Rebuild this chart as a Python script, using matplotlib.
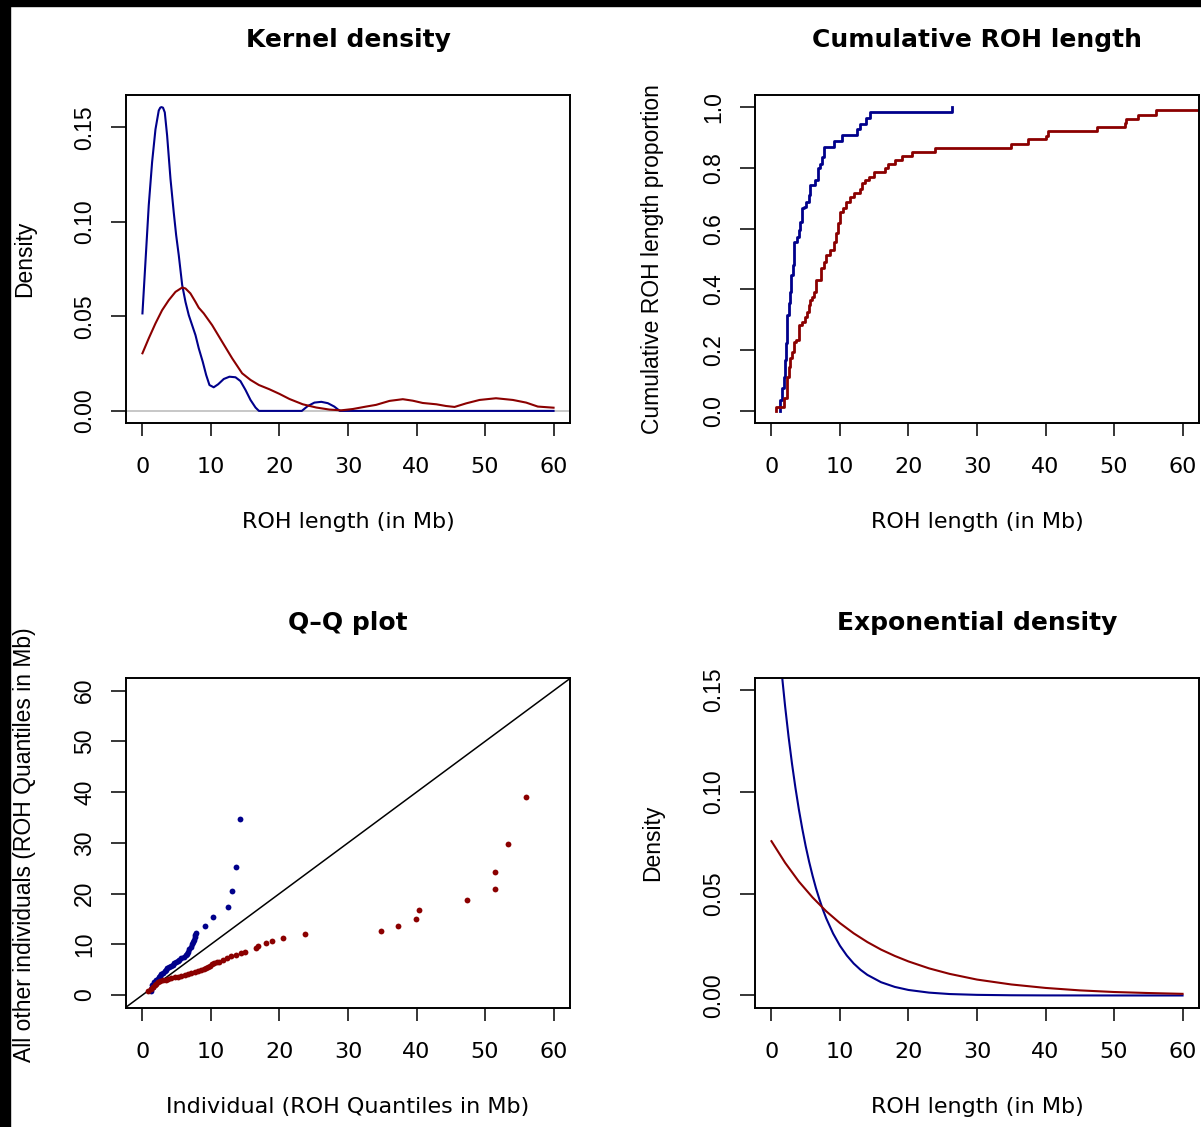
import matplotlib.pyplot as plt
from matplotlib.patches import Rectangle

# ---- values ----
# kernel density curves (ROH length in Mb -> density)
kde_blue_x = [0, 0.44, 0.92, 1.41, 1.9, 2.38, 2.6, 2.77, 3.0, 3.26, 3.6, 4.09, 4.57, 4.92,
              5.3, 5.8, 6.28, 6.76, 7.25, 7.74, 8.22, 8.8, 9.3, 9.78, 10.4, 11.05, 11.87,
              12.7, 13.58, 14.3, 15.04, 15.77, 16.5, 17.0, 23.26, 24.1, 25.1, 26.1, 27.05,
              28.0, 28.8, 60]
kde_blue_y = [0.0516, 0.0789, 0.1088, 0.1317, 0.149, 0.159, 0.1605, 0.1608, 0.1605, 0.158,
              0.1458, 0.1229, 0.105, 0.093, 0.0824, 0.0666, 0.0577, 0.0507, 0.0454, 0.0401,
              0.0331, 0.026, 0.019, 0.0137, 0.0125, 0.0141, 0.0169, 0.0181, 0.0178, 0.0158,
              0.0111, 0.0058, 0.0018, 0.0, 0.0, 0.0025, 0.0044, 0.0048, 0.0041, 0.0023, 0.0, 0.0]
kde_red_x = [0, 0.92, 1.9, 2.87, 3.84, 4.82, 5.8, 6.28, 7.0, 7.74, 8.22, 8.95, 10.17, 11.63,
             13.1, 14.55, 15.77, 17.0, 18.5, 20.0, 21.46, 23.4, 25.36, 27.3, 29.0, 30.7,
             32.65, 34.1, 36.06, 38.0, 39.46, 40.9, 42.9, 44.3, 45.55, 47.25, 49.2, 51.6,
             54.06, 56.0, 57.7, 60]
kde_red_y = [0.0305, 0.0384, 0.0463, 0.0533, 0.0586, 0.063, 0.0653, 0.0648, 0.0622, 0.0577,
             0.0546, 0.0516, 0.0454, 0.0366, 0.0278, 0.0199, 0.0164, 0.0137, 0.0115, 0.009,
             0.0063, 0.0035, 0.0018, 0.0007, 0.0003, 0.001, 0.0023, 0.0032, 0.0053, 0.0062,
             0.0054, 0.0042, 0.0035, 0.0026, 0.0021, 0.004, 0.0058, 0.0067, 0.0058, 0.0044,
             0.0023, 0.0017]

# cumulative ROH length proportion (step positions and levels after each step)
cum_blue_x = [1.31, 1.31, 1.56, 1.80, 1.95, 2.14, 2.29, 2.53, 2.77, 2.92, 3.11, 3.36, 3.75,
              4.09, 4.23, 4.43, 4.72, 5.06, 5.55, 5.69, 6.42, 6.76, 7.06, 7.40, 7.64, 9.10,
              10.32, 12.50, 12.99, 13.87, 14.45, 26.28]
cum_blue_y = [0.0, 0.036, 0.075, 0.113, 0.168, 0.223, 0.316, 0.354, 0.392, 0.447, 0.480,
              0.557, 0.573, 0.595, 0.623, 0.667, 0.672, 0.689, 0.711, 0.743, 0.760, 0.798,
              0.814, 0.837, 0.869, 0.889, 0.908, 0.928, 0.946, 0.965, 0.985, 1.0]
cum_red_x = [0.68, 0.68, 1.90, 2.29, 2.53, 2.68, 3.02, 3.26, 3.60, 4.09, 4.48, 4.87, 5.21,
             5.45, 5.69, 5.94, 6.18, 6.52, 7.30, 7.64, 8.03, 8.61, 9.20, 9.49, 9.73, 10.07,
             10.41, 10.95, 11.53, 12.02, 12.99, 13.24, 13.62, 14.31, 14.94, 16.64, 16.98,
             18.10, 19.08, 20.53, 23.80, 34.90, 37.47, 40.00, 40.39, 47.45, 51.58, 51.78,
             53.48, 56.16, 64.0]
cum_red_y = [0.0, 0.014, 0.042, 0.113, 0.146, 0.173, 0.195, 0.228, 0.234, 0.283, 0.294,
             0.310, 0.327, 0.349, 0.365, 0.376, 0.392, 0.431, 0.469, 0.491, 0.513, 0.530,
             0.557, 0.584, 0.617, 0.656, 0.667, 0.689, 0.705, 0.716, 0.732, 0.749, 0.760,
             0.771, 0.785, 0.800, 0.814, 0.826, 0.839, 0.853, 0.866, 0.880, 0.895, 0.906,
             0.921, 0.934, 0.948, 0.961, 0.974, 0.989, 1.0]

# Q-Q plot quantiles (individual vs all others)
qq_blue_x = [1.2, 1.31, 1.45, 1.55, 1.7, 1.8, 1.95, 2.04, 2.2, 2.43, 2.6, 2.77, 3.0, 3.25,
             3.4, 3.6, 3.9, 4.22, 4.4, 4.6, 4.9, 5.2, 5.4, 5.68, 6.0, 6.3, 6.5, 6.65, 6.8,
             7.03, 7.2, 7.38, 7.5, 7.6, 7.7, 7.77, 9.13, 10.3, 12.42, 13.0, 13.7, 14.3]
qq_blue_y = [1.2, 0.85, 1.9, 1.6, 2.6, 2.3, 2.8, 3.0, 3.2, 3.5, 3.8, 4.1, 4.4, 4.8, 5.0, 5.3,
             5.5, 5.8, 6.0, 6.25, 6.5, 6.8, 7.0, 7.2, 7.5, 7.8, 8.0, 8.5, 9.0, 9.5, 10.0,
             10.5, 10.9, 11.4, 11.8, 12.2, 13.6, 15.3, 17.4, 20.5, 25.3, 34.7]
qq_red_x = [0.83, 1.2, 1.55, 1.8, 2.0, 2.28, 2.6, 3.0, 3.4, 3.74, 4.2, 4.7, 5.2, 5.68, 6.2,
            6.65, 7.1, 7.6, 8.1, 8.6, 9.0, 9.3, 9.6, 9.8, 10.2, 10.5, 10.9, 11.2, 11.75, 12.3,
            12.96, 13.7, 14.4, 14.9, 16.6, 16.9, 17.96, 18.93, 20.5, 23.7, 34.8, 37.3, 39.9,
            40.3, 47.3, 51.4, 51.5, 53.3, 56.0]
qq_red_y = [0.8, 1.1, 1.5, 1.9, 2.2, 2.6, 2.8, 3.0, 3.05, 3.15, 3.3, 3.5, 3.6, 3.75, 3.9,
            4.1, 4.35, 4.6, 4.75, 4.9, 5.1, 5.3, 5.6, 5.8, 6.05, 6.25, 6.45, 6.6, 6.9, 7.2,
            7.6, 7.9, 8.2, 8.5, 9.2, 9.6, 10.3, 10.7, 11.25, 12.0, 12.6, 13.7, 15.0, 16.8,
            18.7, 20.9, 24.3, 29.7, 39.0]

# fitted exponential densities
exp_blue_x = [0, 0.5, 1, 1.5, 2, 2.5, 3, 3.5, 4, 4.5, 5, 5.5, 6, 6.5, 7, 7.5, 8, 9, 10, 11,
              12, 13, 14, 16, 18, 20, 23, 26, 30, 35, 40, 50, 60]
exp_blue_y = [0.2200, 0.1971, 0.1766, 0.1582, 0.1417, 0.1269, 0.1137, 0.1019, 0.0913,
              0.0818, 0.0732, 0.0656, 0.0588, 0.0526, 0.0472, 0.0422, 0.0378, 0.0304,
              0.0244, 0.0196, 0.0157, 0.0126, 0.0101, 0.0065, 0.0042, 0.0027, 0.0014,
              0.0007, 0.0003, 0.0001, 0.00003, 0.0, 0.0]
exp_red_x = [0, 2, 4, 6, 8, 10, 12, 14, 16, 18, 20, 23, 26, 30, 35, 40, 45, 50, 55, 60]
exp_red_y = [0.0757, 0.0651, 0.0559, 0.0481, 0.0413, 0.0355, 0.0305, 0.0262, 0.0225, 0.0194,
             0.0167, 0.0133, 0.0106, 0.0078, 0.0054, 0.0037, 0.0025, 0.0017, 0.0012, 0.0008]

x_ticks = [0, 10, 20, 30, 40, 50, 60]
dens_ticks = [0.0, 0.05, 0.10, 0.15]
dens_labels = ["0.00", "0.05", "0.10", "0.15"]
prop_ticks = [0.0, 0.2, 0.4, 0.6, 0.8, 1.0]
prop_labels = ["0.0", "0.2", "0.4", "0.6", "0.8", "1.0"]
qq_ticks = [0, 10, 20, 30, 40, 50, 60]
qq_labels = ["0", "10", "20", "30", "40", "50", "60"]

BLUE = "#00008B"
RED = "#8B0000"
HFONT = "DejaVu Sans"      # horizontal text (picture is stretched sideways)
VFONT = "Liberation Sans"  # rotated text

W, H = 1201, 1127
fig = plt.figure(figsize=(W / 100, H / 100), dpi=100)


def px_axes(x0, y0, x1, y1):
    return fig.add_axes([x0 / W, 1 - y1 / H, (x1 - x0) / W, (y1 - y0) / H])


def ftext(x, y, s, **kw):
    fig.text(x / W, 1 - y / H, s, **kw)


def style(ax, ylim, yticks, ylabels):
    ax.set_xlim(-2.4, 62.4)
    ax.set_ylim(*ylim)
    ax.set_xticks(x_ticks)
    ax.set_xticklabels([str(t) for t in x_ticks], fontfamily=HFONT)
    ax.set_yticks(yticks)
    ax.set_yticklabels(ylabels, fontfamily=VFONT, rotation=90, va="center")
    ax.tick_params(axis="x", length=9.4, width=1.1, pad=15, labelsize=16)
    ax.tick_params(axis="y", length=10.8, width=1.1, pad=10.8, labelsize=16.5)
    for sp in ax.spines.values():
        sp.set_linewidth(1.4)


# top-left: kernel density
ax1 = px_axes(126, 95, 570, 423)
ax1.axhline(0, color="#BEBEBE", lw=1.2)
ax1.plot(kde_blue_x, kde_blue_y, color=BLUE, lw=1.5)
ax1.plot(kde_red_x, kde_red_y, color=RED, lw=1.5)
style(ax1, (-0.0064, 0.1672), dens_ticks, dens_labels)

# top-right: cumulative ROH length
ax2 = px_axes(755, 95, 1199, 423)
ax2.step(cum_blue_x, cum_blue_y, where="post", color=BLUE, lw=2.0)
ax2.step(cum_red_x, cum_red_y, where="post", color=RED, lw=2.0)
style(ax2, (-0.04, 1.04), prop_ticks, prop_labels)

# bottom-left: Q-Q plot
ax3 = px_axes(126, 677.5, 570, 1007.7)
ax3.axline((0, 0), slope=1, color="black", lw=1.1)
ax3.plot(qq_blue_x, qq_blue_y, "o", color=BLUE, ms=4.2, mec="none")
ax3.plot(qq_red_x, qq_red_y, "o", color=RED, ms=4.2, mec="none")
style(ax3, (-2.5, 62.6), qq_ticks, qq_labels)

# bottom-right: exponential density
ax4 = px_axes(755, 677.5, 1199, 1007.7)
ax4.plot(exp_blue_x, exp_blue_y, color=BLUE, lw=1.5)
ax4.plot(exp_red_x, exp_red_y, color=RED, lw=1.5)
style(ax4, (-0.006, 0.156), dens_ticks, dens_labels)

# titles and axis labels
tkw = dict(ha="center", va="baseline", fontsize=18, fontweight="bold", family=HFONT)
ftext(348, 47.5, "Kernel density", **tkw)
ftext(977, 47.5, "Cumulative ROH length", **tkw)
ftext(348, 630, "Q\u2013Q plot", **tkw)
ftext(977, 630, "Exponential density", **tkw)

xkw = dict(ha="center", va="baseline", fontsize=16, family=HFONT)
ftext(348, 528, "ROH length (in Mb)", **xkw)
ftext(977, 528, "ROH length (in Mb)", **xkw)
ftext(348, 1112.7, "Individual (ROH Quantiles in Mb)", **xkw)
ftext(977, 1112.7, "ROH length (in Mb)", **xkw)

ykw = dict(ha="center", va="center", rotation=90, fontsize=16.5, family=VFONT)
ftext(25, 259, "Density", **ykw)
ftext(653, 259, "Cumulative ROH length proportion", **ykw)
ftext(25, 845, "All other individuals (ROH Quantiles in Mb)", **ykw)
ftext(653, 843, "Density", **ykw)

# dark screenshot border along top and left edges
fig.add_artist(Rectangle((0, 1 - 6 / H), 1, 6 / H, transform=fig.transFigure,
                         color="black", zorder=10))
fig.add_artist(Rectangle((0, 0), 9.5 / W, 1, transform=fig.transFigure,
                         color="black", zorder=10))

fig.savefig("out.png", dpi=100)
